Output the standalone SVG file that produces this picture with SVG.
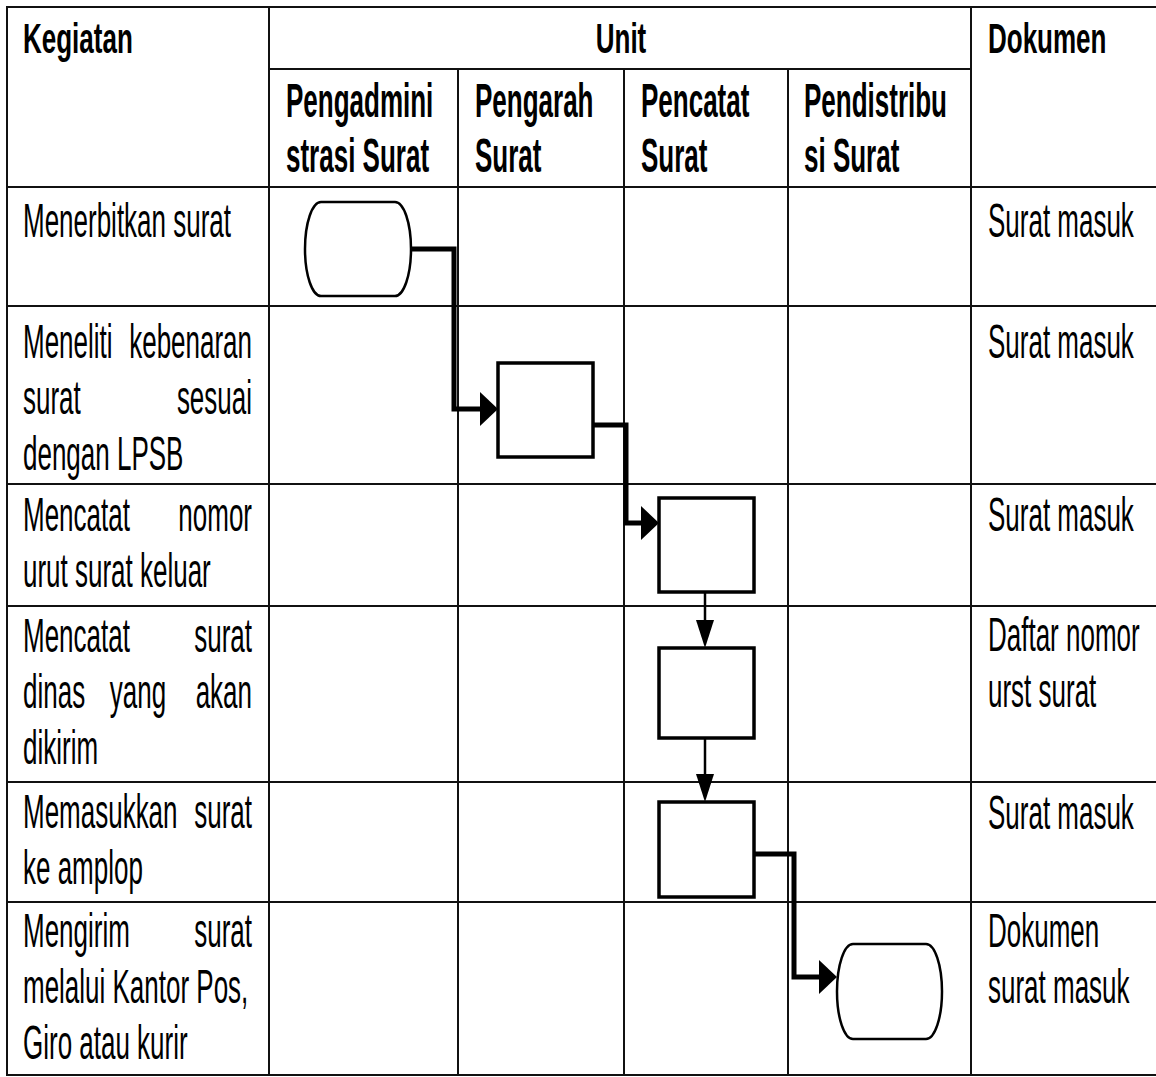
<svg xmlns="http://www.w3.org/2000/svg" width="1156" height="1077" viewBox="0 0 1156 1077">
  <style>
    .grid { stroke: #111; stroke-width: 2; fill: none; }
    .hd { font-family: "Liberation Sans", Arial, sans-serif; font-weight: bold; font-size: 26px; fill: #000; }
    .bd { font-family: "Liberation Sans", Arial, sans-serif; font-size: 26px; fill: #000; }
    .r { text-anchor: end; }
    .m { text-anchor: middle; }
    .box { fill: #fff; stroke: #000; stroke-width: 3.5; }
    .term { fill: #fff; stroke: #000; stroke-width: 2.5; }
    .flow { fill: none; stroke: #000; stroke-width: 5; stroke-linejoin: miter; }
    .flow-thin { fill: none; stroke: #000; stroke-width: 2.5; }
  </style>
  <defs>
    <marker id="arrowThick" markerUnits="userSpaceOnUse" viewBox="0 0 18 34" refX="0" refY="17" markerWidth="18" markerHeight="34" orient="auto">
      <path d="M0,0 L18,17 L0,34 Z" fill="#000"/>
    </marker>
    <marker id="arrowThin" markerUnits="userSpaceOnUse" viewBox="0 0 28 18" refX="0" refY="9" markerWidth="28" markerHeight="18" orient="auto">
      <path d="M0,0 L28,9 L0,18 Z" fill="#000"/>
    </marker>
  </defs>

  <rect width="1156" height="1077" fill="#fff"/>

  <!-- table grid -->
  <g id="table-grid" class="grid">
    <line x1="6" y1="7" x2="1156" y2="7"/>
    <line x1="7" y1="6" x2="7" y2="1076"/>
    <line x1="6" y1="1075" x2="1156" y2="1075"/>
    <line x1="269" y1="7" x2="269" y2="1075"/>
    <line x1="971" y1="7" x2="971" y2="1075"/>
    <line x1="269" y1="69" x2="971" y2="69"/>
    <line x1="458" y1="69" x2="458" y2="1075"/>
    <line x1="624" y1="69" x2="624" y2="1075"/>
    <line x1="788" y1="69" x2="788" y2="1075"/>
    <line x1="7" y1="187" x2="1156" y2="187"/>
    <line x1="7" y1="306" x2="1156" y2="306"/>
    <line x1="7" y1="484" x2="1156" y2="484"/>
    <line x1="7" y1="606" x2="1156" y2="606"/>
    <line x1="7" y1="782" x2="1156" y2="782"/>
    <line x1="7" y1="902" x2="1156" y2="902"/>
  </g>

  <!-- column headings -->
  <g id="headings">
    <text class="hd" transform="translate(23,53) scale(1,1.65)">Kegiatan</text>
    <text class="hd m" transform="translate(621,53) scale(1,1.65)">Unit</text>
    <text class="hd" transform="translate(988,53) scale(1,1.65)">Dokumen</text>
    <text class="hd" transform="translate(286,117) scale(1,1.85)">Pengadmini</text>
    <text class="hd" transform="translate(286,172) scale(1,1.85)">strasi Surat</text>
    <text class="hd" transform="translate(475,117) scale(1,1.85)">Pengarah</text>
    <text class="hd" transform="translate(475,172) scale(1,1.85)">Surat</text>
    <text class="hd" transform="translate(641,117) scale(1,1.85)">Pencatat</text>
    <text class="hd" transform="translate(641,172) scale(1,1.85)">Surat</text>
    <text class="hd" transform="translate(804,117) scale(1,1.85)">Pendistribu</text>
    <text class="hd" transform="translate(804,172) scale(1,1.85)">si Surat</text>
  </g>

  <!-- activity column (justified lines set word by word) -->
  <g id="kegiatan">
    <text class="bd" transform="translate(23,237) scale(1,1.88)">Menerbitkan surat</text>

    <text class="bd" transform="translate(23,358) scale(1,1.88)">Meneliti</text>
    <text class="bd r" transform="translate(252,358) scale(1,1.88)">kebenaran</text>
    <text class="bd" transform="translate(23,414) scale(1,1.88)">surat</text>
    <text class="bd r" transform="translate(252,414) scale(1,1.88)">sesuai</text>
    <text class="bd" transform="translate(23,470) scale(1,1.88)">dengan LPSB</text>

    <text class="bd" transform="translate(23,531) scale(1,1.88)">Mencatat</text>
    <text class="bd r" transform="translate(252,531) scale(1,1.88)">nomor</text>
    <text class="bd" transform="translate(23,587) scale(1,1.88)">urut surat keluar</text>

    <text class="bd" transform="translate(23,652) scale(1,1.88)">Mencatat</text>
    <text class="bd r" transform="translate(252,652) scale(1,1.88)">surat</text>
    <text class="bd" transform="translate(23,708) scale(1,1.88)">dinas</text>
    <text class="bd m" transform="translate(138,708) scale(1,1.88)">yang</text>
    <text class="bd r" transform="translate(252,708) scale(1,1.88)">akan</text>
    <text class="bd" transform="translate(23,764) scale(1,1.88)">dikirim</text>

    <text class="bd" transform="translate(23,828) scale(1,1.88)">Memasukkan</text>
    <text class="bd r" transform="translate(252,828) scale(1,1.88)">surat</text>
    <text class="bd" transform="translate(23,884) scale(1,1.88)">ke amplop</text>

    <text class="bd" transform="translate(23,947) scale(1,1.88)">Mengirim</text>
    <text class="bd r" transform="translate(252,947) scale(1,1.88)">surat</text>
    <text class="bd" transform="translate(23,1003) scale(1,1.88)">melalui Kantor Pos,</text>
    <text class="bd" transform="translate(23,1059) scale(1,1.88)">Giro atau kurir</text>
  </g>

  <!-- document column -->
  <g id="dokumen">
    <text class="bd" transform="translate(988,237) scale(1,1.88)">Surat masuk</text>
    <text class="bd" transform="translate(988,358) scale(1,1.88)">Surat masuk</text>
    <text class="bd" transform="translate(988,531) scale(1,1.88)">Surat masuk</text>
    <text class="bd" transform="translate(988,651) scale(1,1.88)">Daftar nomor</text>
    <text class="bd" transform="translate(988,707) scale(1,1.88)">urst surat</text>
    <text class="bd" transform="translate(988,829) scale(1,1.88)">Surat masuk</text>
    <text class="bd" transform="translate(988,947) scale(1,1.88)">Dokumen</text>
    <text class="bd" transform="translate(988,1003) scale(1,1.88)">surat masuk</text>
  </g>

  <!-- connectors -->
  <g id="connectors">
    <path class="flow" d="M411,249 H454 V409 H480" marker-end="url(#arrowThick)"/>
    <path class="flow" d="M593,425 H626 V523 H641" marker-end="url(#arrowThick)"/>
    <path class="flow-thin" d="M705,592 V620" marker-end="url(#arrowThin)"/>
    <path class="flow-thin" d="M705,738 V774" marker-end="url(#arrowThin)"/>
    <path class="flow" d="M753,854 H794 V977 H819" marker-end="url(#arrowThick)"/>
  </g>

  <!-- flow nodes -->
  <g id="node-start">
    <rect class="term" x="305" y="202" width="106" height="94" rx="16" ry="47"/>
  </g>
  <g id="node-check">
    <rect class="box" x="498" y="363" width="95" height="94"/>
  </g>
  <g id="node-number">
    <rect class="box" x="659" y="498" width="95" height="94"/>
  </g>
  <g id="node-record">
    <rect class="box" x="659" y="648" width="95" height="90"/>
  </g>
  <g id="node-envelope">
    <rect class="box" x="659" y="802" width="95" height="95"/>
  </g>
  <g id="node-end">
    <rect class="term" x="837" y="944" width="105" height="95" rx="16" ry="47.5"/>
  </g>
</svg>
